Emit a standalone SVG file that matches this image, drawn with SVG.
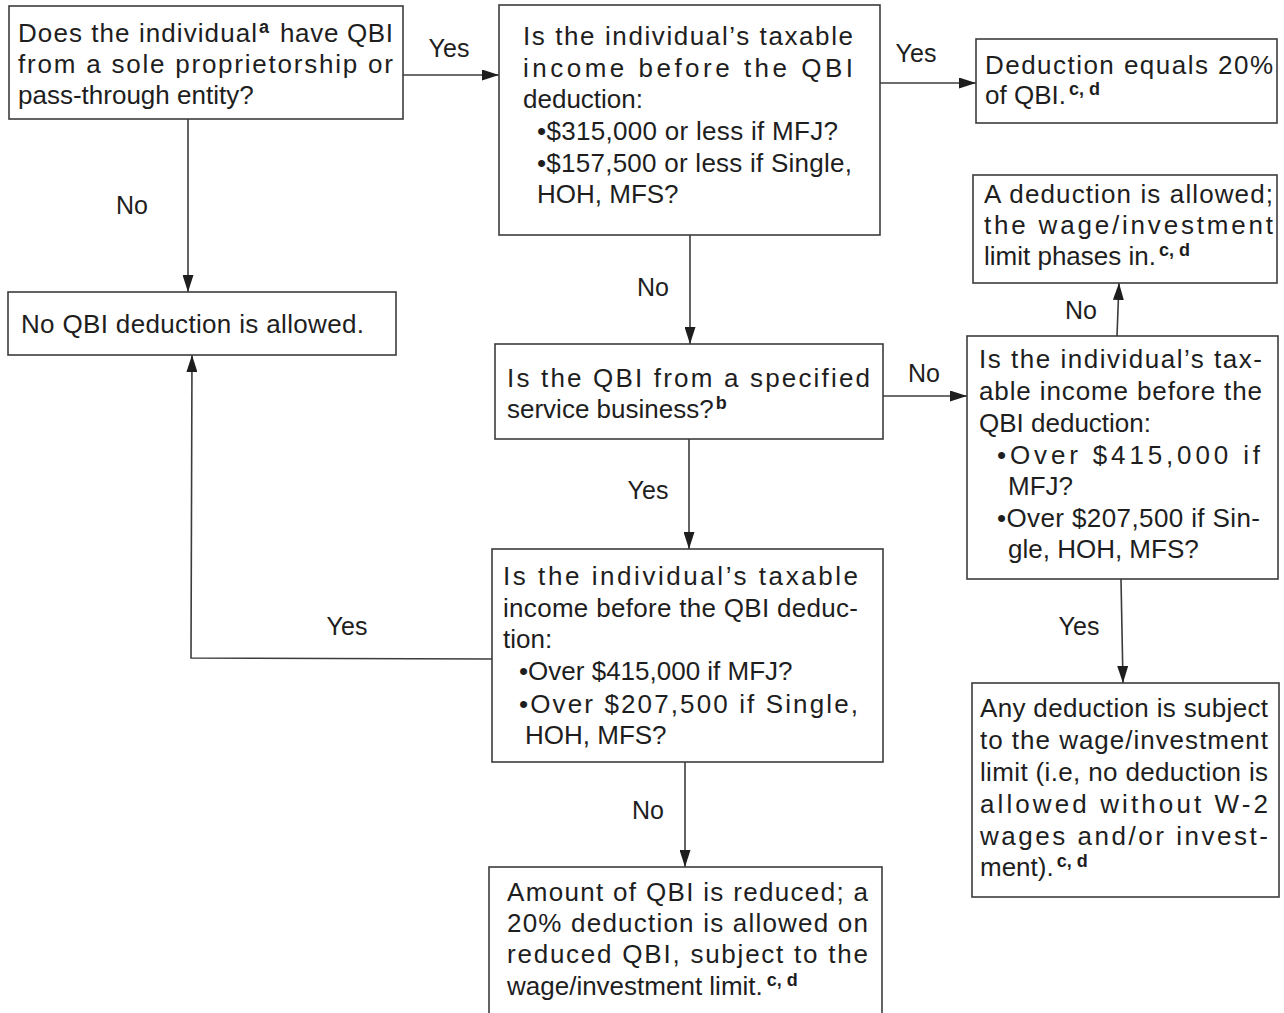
<svg xmlns="http://www.w3.org/2000/svg" width="1284" height="1013" viewBox="0 0 1284 1013">
<style>
  .box { fill: #ffffff; stroke: #3c3c3c; stroke-width: 1.6; }
  .t { font-family: "Liberation Sans", Arial, sans-serif; font-size: 26px; fill: #1e1e1e; }
  .sup { font-family: "Liberation Sans", Arial, sans-serif; font-size: 18px; font-weight: bold; fill: #1e1e1e; }
  .lbl { font-family: "Liberation Sans", Arial, sans-serif; font-size: 25px; fill: #1e1e1e; text-anchor: middle; }
  .conn { fill: none; stroke: #3c3c3c; stroke-width: 1.6; }
</style>
<defs>
  <marker id="arr" viewBox="0 0 17 11" refX="17" refY="5.5" markerWidth="17" markerHeight="11" markerUnits="userSpaceOnUse" orient="auto">
    <path d="M0,0 L17,5.5 L0,11 z" fill="#1e1e1e"/>
  </marker>
</defs>
<rect width="1284" height="1013" fill="#ffffff"/>

<g id="connectors">
  <line class="conn" x1="403" y1="75" x2="499" y2="75" marker-end="url(#arr)"/>
  <line class="conn" x1="880" y1="83" x2="976" y2="83" marker-end="url(#arr)"/>
  <line class="conn" x1="188" y1="119" x2="188" y2="292" marker-end="url(#arr)"/>
  <line class="conn" x1="690" y1="235" x2="690" y2="344" marker-end="url(#arr)"/>
  <line class="conn" x1="883" y1="396" x2="967" y2="396" marker-end="url(#arr)"/>
  <line class="conn" x1="1117" y1="336" x2="1119" y2="283" marker-end="url(#arr)"/>
  <line class="conn" x1="689" y1="439" x2="689" y2="549" marker-end="url(#arr)"/>
  <polyline class="conn" points="492,659 191,658 192,355" marker-end="url(#arr)"/>
  <line class="conn" x1="685" y1="762" x2="685" y2="867" marker-end="url(#arr)"/>
  <line class="conn" x1="1121" y1="579" x2="1123" y2="683" marker-end="url(#arr)"/>
  <text class="lbl" x="449" y="57">Yes</text>
  <text class="lbl" x="916" y="62">Yes</text>
  <text class="lbl" x="132" y="214">No</text>
  <text class="lbl" x="653" y="296">No</text>
  <text class="lbl" x="924" y="382">No</text>
  <text class="lbl" x="1081" y="319">No</text>
  <text class="lbl" x="648" y="499">Yes</text>
  <text class="lbl" x="347" y="635">Yes</text>
  <text class="lbl" x="648" y="819">No</text>
  <text class="lbl" x="1079" y="635">Yes</text>
</g>

<g id="q-has-qbi">
  <rect class="box" x="9" y="6" width="394" height="113"/>
  <text class="t" x="18" y="42" textLength="239" lengthAdjust="spacing">Does the individual</text>
  <text class="sup" x="259" y="33">a</text>
  <text class="t" x="280" y="42" textLength="113" lengthAdjust="spacing">have QBI</text>
  <text class="t" x="18" y="73" textLength="375" lengthAdjust="spacing">from a sole proprietorship or</text>
  <text class="t" x="18" y="104">pass-through entity?</text>
</g>

<g id="no-deduction">
  <rect class="box" x="8" y="292" width="388" height="63"/>
  <text class="t" x="21" y="333" textLength="343" lengthAdjust="spacing">No QBI deduction is allowed.</text>
</g>

<g id="q-income-low">
  <rect class="box" x="499" y="5" width="381" height="230"/>
  <text class="t" x="523" y="45" textLength="330" lengthAdjust="spacing">Is the individual’s taxable</text>
  <text class="t" x="523" y="77" textLength="330" lengthAdjust="spacing">income before the QBI</text>
  <text class="t" x="523" y="108">deduction:</text>
  <text class="t" x="537" y="140" textLength="301" lengthAdjust="spacing">•$315,000 or less if MFJ?</text>
  <text class="t" x="537" y="172" textLength="315" lengthAdjust="spacing">•$157,500 or less if Single,</text>
  <text class="t" x="537" y="203">HOH, MFS?</text>
</g>

<g id="full-deduction">
  <rect class="box" x="976" y="39" width="301" height="84"/>
  <text class="t" x="985" y="74" textLength="288" lengthAdjust="spacing">Deduction equals 20%</text>
  <text class="t" x="985" y="104">of QBI.<tspan class="sup" dx="3" dy="-9">c, d</tspan></text>
</g>

<g id="phase-in">
  <rect class="box" x="973" y="175" width="304" height="108"/>
  <text class="t" x="984" y="203" textLength="289" lengthAdjust="spacing">A deduction is allowed;</text>
  <text class="t" x="984" y="234" textLength="289" lengthAdjust="spacing">the wage/investment</text>
  <text class="t" x="984" y="265">limit phases in.<tspan class="sup" dx="3" dy="-9">c, d</tspan></text>
</g>

<g id="q-service">
  <rect class="box" x="495" y="344" width="388" height="95"/>
  <text class="t" x="507" y="387" textLength="363" lengthAdjust="spacing">Is the QBI from a specified</text>
  <text class="t" x="507" y="418">service business?<tspan class="sup" dx="2" dy="-9">b</tspan></text>
</g>

<g id="q-income-high-right">
  <rect class="box" x="967" y="336" width="311" height="243"/>
  <text class="t" x="979" y="368" textLength="283" lengthAdjust="spacing">Is the individual’s tax-</text>
  <text class="t" x="979" y="400" textLength="283" lengthAdjust="spacing">able income before the</text>
  <text class="t" x="979" y="432">QBI deduction:</text>
  <text class="t" x="997" y="464" textLength="263" lengthAdjust="spacing">•Over $415,000 if</text>
  <text class="t" x="1008" y="495">MFJ?</text>
  <text class="t" x="997" y="527" textLength="263" lengthAdjust="spacing">•Over $207,500 if Sin-</text>
  <text class="t" x="1008" y="558">gle, HOH, MFS?</text>
</g>

<g id="q-income-high-left">
  <rect class="box" x="492" y="549" width="391" height="213"/>
  <text class="t" x="503" y="585" textLength="355" lengthAdjust="spacing">Is the individual’s taxable</text>
  <text class="t" x="503" y="617" textLength="355" lengthAdjust="spacing">income before the QBI deduc-</text>
  <text class="t" x="503" y="648">tion:</text>
  <text class="t" x="519" y="680">•Over $415,000 if MFJ?</text>
  <text class="t" x="519" y="713" textLength="339" lengthAdjust="spacing">•Over $207,500 if Single,</text>
  <text class="t" x="525" y="744">HOH, MFS?</text>
</g>

<g id="reduced-qbi">
  <rect class="box" x="489" y="867" width="393" height="160"/>
  <text class="t" x="507" y="901" textLength="361" lengthAdjust="spacing">Amount of QBI is reduced; a</text>
  <text class="t" x="507" y="932" textLength="361" lengthAdjust="spacing">20% deduction is allowed on</text>
  <text class="t" x="507" y="963" textLength="361" lengthAdjust="spacing">reduced QBI, subject to the</text>
  <text class="t" x="507" y="995">wage/investment limit.<tspan class="sup" dx="4" dy="-9">c, d</tspan></text>
</g>

<g id="wage-limit">
  <rect class="box" x="972" y="683" width="307" height="214"/>
  <text class="t" x="980" y="717" textLength="288" lengthAdjust="spacing">Any deduction is subject</text>
  <text class="t" x="980" y="749" textLength="288" lengthAdjust="spacing">to the wage/investment</text>
  <text class="t" x="980" y="781" textLength="288" lengthAdjust="spacing">limit (i.e, no deduction is</text>
  <text class="t" x="980" y="813" textLength="288" lengthAdjust="spacing">allowed without W-2</text>
  <text class="t" x="980" y="845" textLength="288" lengthAdjust="spacing">wages and/or invest-</text>
  <text class="t" x="980" y="876">ment).<tspan class="sup" dx="3" dy="-9">c, d</tspan></text>
</g>
</svg>
